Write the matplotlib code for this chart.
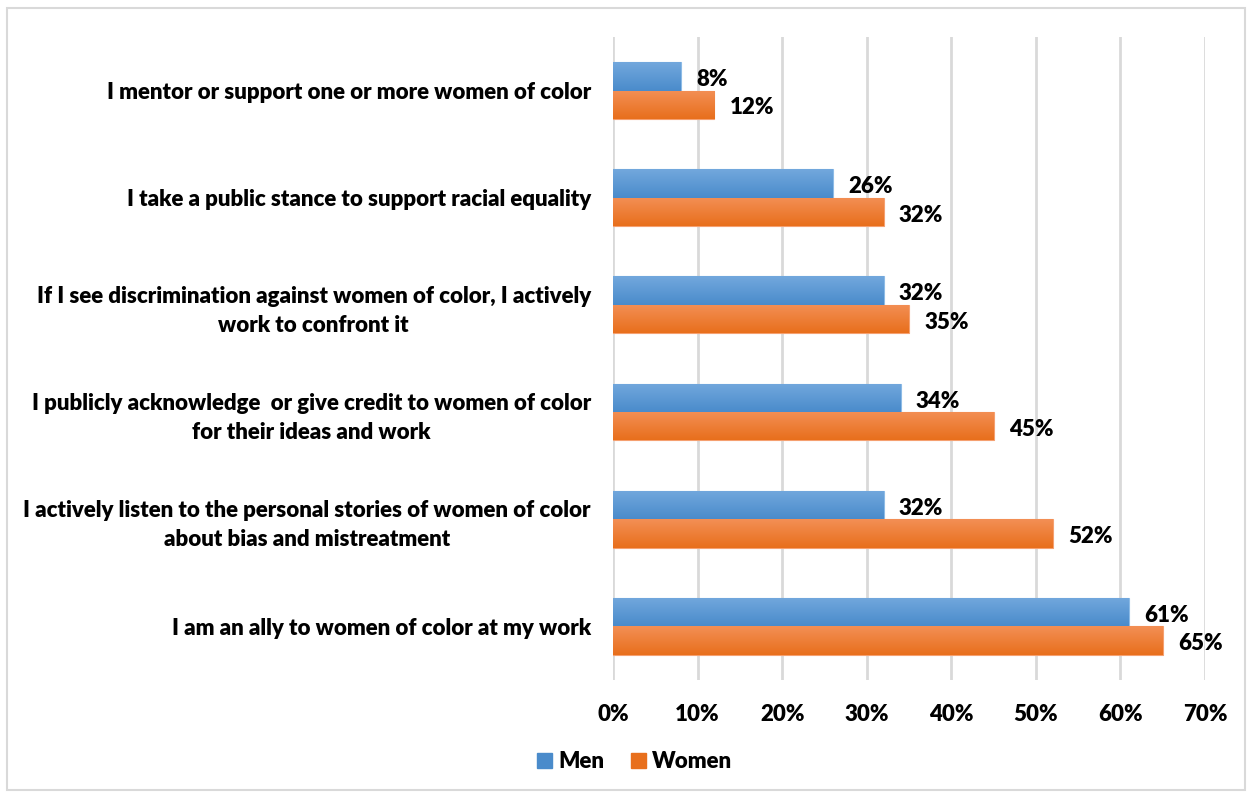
import numpy as np
import matplotlib.pyplot as plt
from matplotlib.patches import Rectangle
from matplotlib.colors import LinearSegmentedColormap

plt.rcParams["font.family"] = ["Lato", "DejaVu Sans"]
plt.rcParams["font.weight"] = "bold"

# Survey data (percent)
categories = [
    "I mentor or support one or more women of color",
    "I take a public stance to support racial equality",
    "If I see discrimination against women of color, I actively\nwork to confront it",
    "I publicly acknowledge  or give credit to women of color\nfor their ideas and work",
    "I actively listen to the personal stories of women of color\nabout bias and mistreatment",
    "I am an ally to women of color at my work",
]
men = [8, 26, 32, 34, 32, 61]
women = [12, 32, 35, 45, 52, 65]
xticks = [0, 10, 20, 30, 40, 50, 60, 70]

blue_light, blue_dark = "#72a8dd", "#4a8bcb"
orange_light, orange_dark = "#f38f55", "#e86f1c"
fs = 16

fig = plt.figure(figsize=(12.5, 7.95), dpi=100)
ax = fig.add_axes([0.4904, 0.1447, 0.4736, 0.8088])

y = np.arange(len(categories))
h = 0.265

bars_m = ax.barh(y - h / 2, men, height=h, color=blue_dark, edgecolor="#8dbbe6", linewidth=0.8, zorder=3)
bars_w = ax.barh(y + h / 2, women, height=h, color=orange_dark, edgecolor="#f5a070", linewidth=0.8, zorder=3)

# vertical gradient fill on each bar (light on top, darker at bottom)
grad = np.linspace(0, 1, 50).reshape(-1, 1)
for bars, c1, c2 in [(bars_m, blue_light, blue_dark), (bars_w, orange_light, orange_dark)]:
    cmap = LinearSegmentedColormap.from_list("g", [c2, c1])
    for b in bars:
        x0, y0 = b.get_x(), b.get_y()
        w, hh = b.get_width(), b.get_height()
        im = ax.imshow(grad, cmap=cmap, aspect="auto", extent=[x0, x0 + w, y0 + hh, y0],
                       origin="lower", zorder=3.5)
        im.set_clip_path(b)

for i in range(len(categories)):
    ax.text(men[i] + 1.8, y[i] - h / 2 + 0.03, f"{men[i]}%", va="center", ha="left",
            fontsize=fs, fontweight="heavy", zorder=5)
    ax.text(women[i] + 1.8, y[i] + h / 2 + 0.03, f"{women[i]}%", va="center", ha="left",
            fontsize=fs, fontweight="heavy", zorder=5)

ax.set_xlim(0, 70)
ax.set_ylim(len(categories) - 0.5, -0.5)
ax.set_xticks(xticks)
ax.set_xticklabels([f"{t}%" for t in xticks], fontsize=fs, fontweight="heavy")
ax.set_yticks(y)
ax.set_yticklabels(categories, fontsize=fs, fontweight="heavy")
for lab in ax.get_yticklabels():
    lab.set_multialignment("center")
    lab.set_linespacing(1.45)

ax.tick_params(axis="both", length=0)
ax.tick_params(axis="y", pad=16)
ax.tick_params(axis="x", pad=17)
for s in ax.spines.values():
    s.set_visible(False)
ax.grid(axis="x", color="#d9d9d9", linewidth=2, zorder=0)
ax.set_axisbelow(True)

leg = fig.legend([Rectangle((0, 0), 1, 1, color=blue_dark), Rectangle((0, 0), 1, 1, color=orange_dark)],
                 ["Men", "Women"], loc="center", bbox_to_anchor=(0.508, 0.042), ncol=2, frameon=False,
                 prop={"size": fs, "weight": "heavy"}, handlelength=0.65, handleheight=0.65,
                 handletextpad=0.3, columnspacing=1.2)

# outer chart border
fig.patches.append(Rectangle((0.0056, 0.006), 0.9904, 0.984, transform=fig.transFigure,
                             fill=False, edgecolor="#d9d9d9", linewidth=1.5))

fig.savefig("out.png", dpi=100)
